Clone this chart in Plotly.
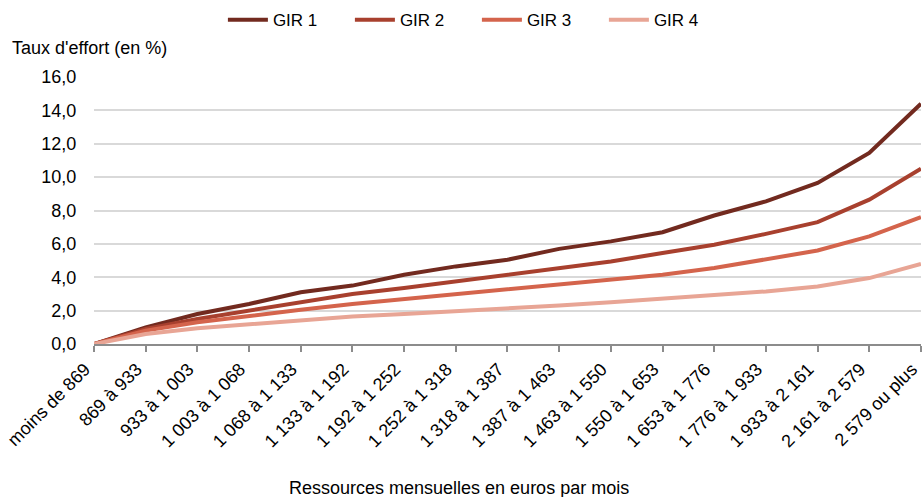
import plotly.graph_objects as go

categories = ["moins de 869", "869 à 933", "933 à 1 003", "1 003 à 1 068", "1 068 à 1 133",
              "1 133 à 1 192", "1 192 à 1 252", "1 252 à 1 318", "1 318 à 1 387", "1 387 à 1 463",
              "1 463 à 1 550", "1 550 à 1 653", "1 653 à 1 776", "1 776 à 1 933", "1 933 à 2 161",
              "2 161 à 2 579", "2 579 ou plus"]
gir1 = [0.0, 1.0, 1.8, 2.4, 3.1, 3.5, 4.15, 4.65, 5.05, 5.7, 6.15, 6.7, 7.7, 8.55, 9.65, 11.45, 14.4]
gir2 = [0.0, 0.9, 1.5, 2.0, 2.55, 3.0, 3.35, 3.75, 4.15, 4.5, 4.95, 5.45, 5.95, 6.6, 7.3, 8.65, 10.5]
gir3 = [0.0, 0.8, 1.3, 1.7, 2.05, 2.4, 2.7, 3.0, 3.25, 3.55, 3.85, 4.15, 4.55, 5.05, 5.6, 6.45, 7.6]
gir4 = [0.0, 0.6, 0.95, 1.2, 1.45, 1.65, 1.8, 1.95, 2.15, 2.3, 2.5, 2.7, 2.9, 3.15, 3.45, 3.95, 4.8]
series_names = ["GIR 1", "GIR 2", "GIR 3", "GIR 4"]
colors = ["#722A1F", "#A8402E", "#D4644C", "#E8A595"]
y_ticks = [0, 2, 4, 6, 8, 10, 12, 14, 16]

font = "Liberation Sans, Arial, sans-serif"
fs = 18
fig = go.Figure()
for name, vals, c in zip(series_names, [gir1, gir2, gir3, gir4], colors):
    fig.add_trace(go.Scatter(x=list(range(len(categories))), y=vals, name=name, mode="lines",
                             line=dict(color=c, width=4), cliponaxis=False))

fig.update_layout(
    width=923, height=497,
    margin=dict(l=94, r=2, t=77, b=153),
    paper_bgcolor="white", plot_bgcolor="white",
    separators=", ",
    font=dict(family=font, size=fs, color="#000000"),
    showlegend=True,
    legend=dict(orientation="h", x=0.463, xanchor="center", y=1.213, yanchor="middle",
                font=dict(size=17), entrywidth=72, itemwidth=40),
    xaxis=dict(
        range=[0, 16.001], tickmode="array", tickvals=list(range(len(categories))), ticktext=categories,
        tickangle=-45, showgrid=False, zeroline=False, automargin=False,
        ticklabeloverflow="allow", ticklabelshift=-9,
        showline=True, linecolor="#8c8c8c", linewidth=1.5,
        ticks="outside", ticklen=6, tickcolor="#8c8c8c", tickwidth=1.5,
        tickfont=dict(size=fs),
    ),
    yaxis=dict(
        range=[0, 16], tickvals=y_ticks, tickformat=".1f", showgrid=True, gridcolor="#d9d9d9",
        gridwidth=1.5, zeroline=False, showline=False, ticks="outside", ticklen=13,
        tickcolor="rgba(0,0,0,0)", tickfont=dict(size=fs), automargin=False,
    ),
    annotations=[
        dict(text="Taux d'effort (en %)", xref="paper", yref="paper", x=-0.102, y=1.109,
             xanchor="left", yanchor="middle", showarrow=False, font=dict(size=fs)),
        dict(text="Ressources mensuelles en euros par mois", xref="paper", yref="paper", x=0.441,
             y=-0.540, xanchor="center", yanchor="middle", showarrow=False, font=dict(size=fs)),
    ],
)
fig.write_html("out.html", config={"displayModeBar": False},
               post_script="document.body.style.margin='0';document.body.style.overflow='hidden';")
